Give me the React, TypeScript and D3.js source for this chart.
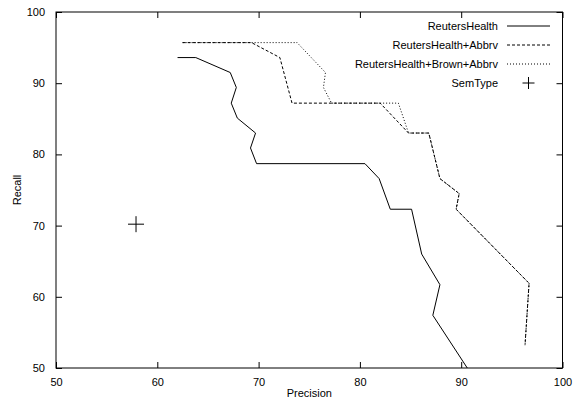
import React, { useEffect, useRef } from 'react';
import * as d3 from 'd3';

// Precision / recall values
const rhPrecision = [62.0, 63.8, 67.2, 67.8, 67.3, 67.9, 69.7, 69.2, 69.8, 80.5, 81.9, 83.0, 85.1, 86.1, 87.9, 87.2, 90.6];
const rhRecall = [93.6, 93.6, 91.5, 89.4, 87.2, 85.1, 83.0, 80.9, 78.7, 78.7, 76.6, 72.3, 72.3, 66.0, 61.7, 57.4, 50.0];

const abbrvPrecision = [62.5, 69.3, 72.1, 73.3, 82.0, 84.8, 86.8, 87.9, 89.8, 89.5, 96.7, 96.3];
const abbrvRecall = [95.7, 95.7, 93.6, 87.2, 87.2, 83.0, 83.0, 76.6, 74.5, 72.3, 61.9, 53.2];

const brownPrecision = [62.5, 73.8, 76.6, 76.4, 77.2, 83.8, 84.8, 86.8, 87.9, 89.8, 89.5, 96.7, 96.3];
const brownRecall = [95.7, 95.7, 91.5, 89.4, 87.2, 87.2, 83.0, 83.0, 76.6, 74.5, 72.3, 61.9, 53.2];

const semTypePoint = { precision: 57.9, recall: 70.2 };

const seriesNames = ['ReutersHealth', 'ReutersHealth+Abbrv', 'ReutersHealth+Brown+Abbrv', 'SemType'];
const xTicks = [50, 60, 70, 80, 90, 100];
const yTicks = [50, 60, 70, 80, 90, 100];

const App = () => {
  const ref = useRef<SVGSVGElement>(null);

  useEffect(() => {
    const svg = d3.select(ref.current);
    svg.selectAll('*').remove();

    const width = 573;
    const height = 400;
    const margin = { top: 12, right: 10.5, bottom: 32, left: 56 };
    const font = 'Liberation Sans, Arial, sans-serif';

    const x = d3.scaleLinear().domain([50, 100]).range([margin.left, width - margin.right]);
    const y = d3.scaleLinear().domain([50, 100]).range([height - margin.bottom, margin.top]);

    const tickLen = 6;

    // axes with gnuplot-style inward ticks, mirrored on top and right
    const styleAxis = (g, showText) => {
      g.select('.domain').remove();
      g.selectAll('line').attr('stroke', '#000').attr('stroke-width', 1);
      if (showText) {
        g.selectAll('text').attr('fill', '#000').style('font-family', font).style('font-size', '11px');
      } else {
        g.selectAll('text').remove();
      }
    };

    svg
      .append('g')
      .attr('transform', `translate(0,${y(50)})`)
      .call(d3.axisBottom(x).tickValues(xTicks).tickSizeInner(-tickLen).tickSizeOuter(0).tickPadding(tickLen + 4))
      .call((g) => styleAxis(g, true));

    svg
      .append('g')
      .attr('transform', `translate(0,${y(100)})`)
      .call(d3.axisTop(x).tickValues(xTicks).tickSizeInner(-tickLen).tickSizeOuter(0))
      .call((g) => styleAxis(g, false));

    svg
      .append('g')
      .attr('transform', `translate(${x(50)},0)`)
      .call(d3.axisLeft(y).tickValues(yTicks).tickSizeInner(-tickLen).tickSizeOuter(0).tickPadding(tickLen + 5))
      .call((g) => styleAxis(g, true));

    svg
      .append('g')
      .attr('transform', `translate(${x(100)},0)`)
      .call(d3.axisRight(y).tickValues(yTicks).tickSizeInner(-tickLen).tickSizeOuter(0))
      .call((g) => styleAxis(g, false));

    // border
    svg
      .append('rect')
      .attr('x', x(50))
      .attr('y', y(100))
      .attr('width', x(100) - x(50))
      .attr('height', y(50) - y(100))
      .attr('fill', 'none')
      .attr('stroke', '#000')
      .attr('stroke-width', 1);

    // axis titles
    svg
      .append('text')
      .attr('x', (x(50) + x(100)) / 2)
      .attr('y', 397)
      .attr('text-anchor', 'middle')
      .style('font-family', font)
      .style('font-size', '11px')
      .text('Precision');

    svg
      .append('text')
      .attr('transform', `translate(21,${(y(50) + y(100)) / 2}) rotate(-90)`)
      .attr('text-anchor', 'middle')
      .style('font-family', font)
      .style('font-size', '11px')
      .text('Recall');

    const line = d3
      .line<[number, number]>()
      .x((d) => x(d[0]))
      .y((d) => y(d[1]));

    const series = [
      { px: rhPrecision, rc: rhRecall, dash: null },
      { px: abbrvPrecision, rc: abbrvRecall, dash: '3,2' },
      { px: brownPrecision, rc: brownRecall, dash: '1,2' }
    ];

    // draw dotted first so dashed sits on top where they overlap
    [series[2], series[1], series[0]].forEach((s) => {
      svg
        .append('path')
        .datum(s.px.map((p, i) => [p, s.rc[i]] as [number, number]))
        .attr('fill', 'none')
        .attr('stroke', '#000')
        .attr('stroke-width', 1)
        .attr('stroke-dasharray', s.dash)
        .attr('d', line);
    });

    const cross = (cx, cy, r) => {
      svg.append('line').attr('x1', cx - r).attr('x2', cx + r).attr('y1', cy).attr('y2', cy).attr('stroke', '#000');
      svg.append('line').attr('x1', cx).attr('x2', cx).attr('y1', cy - r).attr('y2', cy + r).attr('stroke', '#000');
    };

    cross(x(semTypePoint.precision), y(semTypePoint.recall), 8);

    // legend
    const legendTextX = 498;
    const legendLine = [507, 550];
    seriesNames.forEach((name, i) => {
      const ly = 26 + i * 19;
      svg
        .append('text')
        .attr('x', legendTextX)
        .attr('y', ly)
        .attr('dy', '0.35em')
        .attr('text-anchor', 'end')
        .style('font-family', font)
        .style('font-size', '11px')
        .text(name);
      if (i < 3) {
        svg
          .append('line')
          .attr('x1', legendLine[0])
          .attr('x2', legendLine[1])
          .attr('y1', ly)
          .attr('y2', ly)
          .attr('stroke', '#000')
          .attr('stroke-dasharray', series[i].dash);
      } else {
        cross((legendLine[0] + legendLine[1]) / 2, ly, 6);
      }
    });
  }, []);

  return <svg ref={ref} width={573} height={400} style={{ position: 'absolute', left: 0, top: 0 }}></svg>;
};

export default App;
